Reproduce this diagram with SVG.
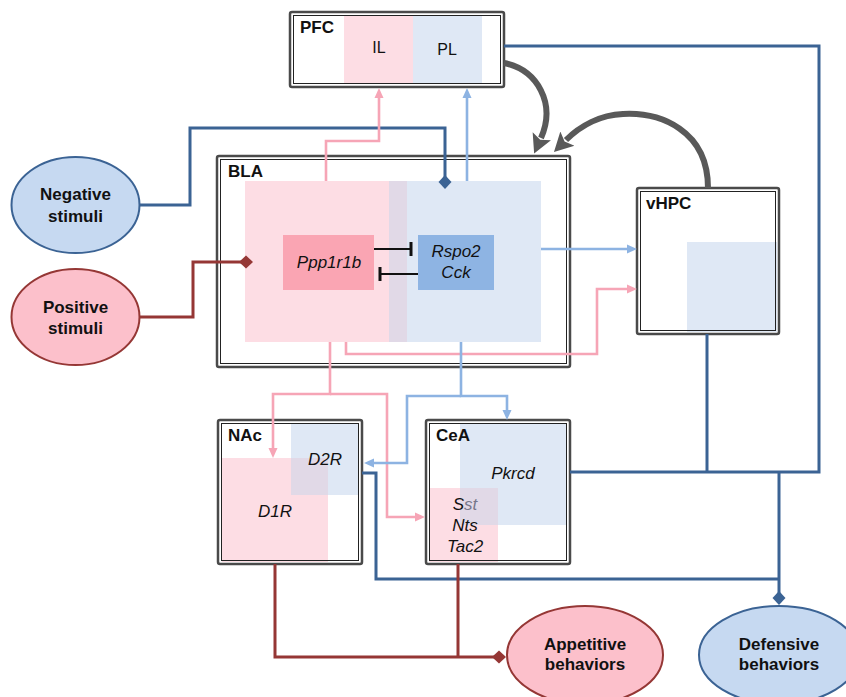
<svg xmlns="http://www.w3.org/2000/svg" width="846" height="697" viewBox="0 0 846 697">
<style>
text{font-family:"Liberation Sans",Arial,sans-serif;fill:#111}
.lbl{font-weight:bold;font-size:17px}
.reg{font-size:16px;text-anchor:middle}
.gene{font-style:italic;font-size:17px;text-anchor:middle}
.ell{font-weight:bold;font-size:17px;text-anchor:middle}
.outer{fill:#fff;stroke:#4a4a4a;stroke-width:2.5}
.inner{fill:none;stroke:#222;stroke-width:1}
.pink{fill:#fddde4}
.blue{fill:#dfe8f5}
.mix{fill:#e1d9e7}
.dk{fill:none;stroke:#3b6394;stroke-width:3}
.rd{fill:none;stroke:#953735;stroke-width:3}
.lp{fill:none;stroke:#f6a5b6;stroke-width:2.6}
.lb{fill:none;stroke:#8db3e2;stroke-width:2.6}
.gy{fill:none;stroke:#595959;stroke-width:6}
.inh{fill:none;stroke:#111;stroke-width:2}
</style>
<defs>
<marker id="arrP" viewBox="0 0 10 10" refX="3" refY="5" markerWidth="10" markerHeight="10" markerUnits="userSpaceOnUse" orient="auto"><path d="M0,0.5 L10,5 L0,9.5 z" fill="#f6a5b6"/></marker>
<marker id="arrB" viewBox="0 0 10 10" refX="3" refY="5" markerWidth="10" markerHeight="10" markerUnits="userSpaceOnUse" orient="auto"><path d="M0,0.5 L10,5 L0,9.5 z" fill="#8db3e2"/></marker>
<marker id="diaB" viewBox="0 0 14 14" refX="7" refY="7" markerWidth="14" markerHeight="14" markerUnits="userSpaceOnUse" orient="auto"><path d="M0,7 L7,0.5 L14,7 L7,13.5 z" fill="#3b6394"/></marker>
<marker id="diaR" viewBox="0 0 14 14" refX="7" refY="7" markerWidth="14" markerHeight="14" markerUnits="userSpaceOnUse" orient="auto"><path d="M0,7 L7,0.5 L14,7 L7,13.5 z" fill="#953735"/></marker>
<marker id="arrG" viewBox="0 -11 20 22" refX="2" refY="0" markerWidth="20" markerHeight="22" markerUnits="userSpaceOnUse" orient="auto"><path d="M0,-10 L19,0 L0,10 L4,0 z" fill="#595959"/></marker>
</defs>

<g id="PFC">
<rect class="outer" x="290" y="12" width="214" height="75" rx="2"/>
<rect class="pink" x="344" y="15" width="69" height="69"/>
<rect class="blue" x="413" y="15" width="69" height="69"/>
<rect class="inner" x="293.5" y="15.5" width="207" height="68"/>
<text class="lbl" x="300" y="33">PFC</text>
<text class="reg" x="379" y="53">IL</text>
<text class="reg" x="447" y="55">PL</text>
</g>

<g id="BLA">
<rect class="outer" x="217" y="156" width="353" height="211" rx="2"/>
<rect class="inner" x="220.5" y="159.5" width="346" height="204"/>
<rect class="pink" x="245" y="181" width="162" height="161"/>
<rect class="blue" x="389" y="181" width="152" height="161"/>
<rect class="mix" x="389" y="181" width="18" height="161"/>
<text class="lbl" x="228" y="177">BLA</text>
</g>

<g id="Ppp1r1b">
<rect x="283" y="235" width="91" height="55" fill="#faa5b3"/>
<text class="gene" x="329" y="268">Ppp1r1b</text>
</g>

<g id="Rspo2Cck">
<rect x="418" y="235" width="76" height="55" fill="#8eb4e3"/>
<text class="gene" x="456" y="257">Rspo2</text>
<text class="gene" x="456" y="278">Cck</text>
</g>

<g id="vHPC">
<rect class="outer" x="637" y="188" width="142" height="146" rx="2"/>
<rect class="blue" x="687" y="242" width="90" height="90"/>
<rect class="inner" x="640.5" y="191.5" width="135" height="139"/>
<text class="lbl" x="646" y="209">vHPC</text>
</g>

<g id="NAc">
<rect class="outer" x="218" y="420" width="144" height="144" rx="2"/>
<rect class="blue" x="291" y="423" width="67" height="72"/>
<rect class="pink" x="222" y="458" width="106" height="104"/>
<rect class="mix" x="291" y="458" width="37" height="37"/>
<rect class="inner" x="221.5" y="423.5" width="137" height="137"/>
<text class="lbl" x="228" y="441">NAc</text>
<text class="gene" x="325" y="465">D2R</text>
<text class="gene" x="275" y="517">D1R</text>
</g>

<g id="CeA">
<rect class="outer" x="426" y="420" width="144" height="144" rx="2"/>
<rect class="blue" x="460" y="423" width="107" height="102"/>
<rect class="pink" x="429" y="488" width="69" height="74"/>
<rect class="mix" x="460" y="488" width="38" height="37"/>
<rect class="inner" x="429.5" y="423.5" width="137" height="137"/>
<text class="lbl" x="436" y="441">CeA</text>
<text class="gene" x="513" y="479">Pkrcd</text>
<text class="gene" x="465" y="510">S<tspan fill="#77778a">st</tspan></text>
<text class="gene" x="465" y="531">Nts</text>
<text class="gene" x="465" y="552">Tac2</text>
</g>

<g id="NegativeStimuli">
<ellipse cx="75.5" cy="205" rx="64" ry="48" fill="#c6d9f1" stroke="#3b6394" stroke-width="2"/>
<text class="ell" x="75.5" y="200">Negative</text>
<text class="ell" x="75.5" y="222">stimuli</text>
</g>

<g id="PositiveStimuli">
<ellipse cx="75.5" cy="317" rx="64" ry="48" fill="#fcc0cb" stroke="#953735" stroke-width="2"/>
<text class="ell" x="75.5" y="313">Positive</text>
<text class="ell" x="75.5" y="334">stimuli</text>
</g>

<g id="AppetitiveBehaviors">
<ellipse cx="585" cy="655" rx="78" ry="49" fill="#fcc0cb" stroke="#953735" stroke-width="2"/>
<text class="ell" x="585" y="650">Appetitive</text>
<text class="ell" x="585" y="670">behaviors</text>
</g>

<g id="DefensiveBehaviors">
<ellipse cx="779" cy="655" rx="80" ry="49" fill="#c6d9f1" stroke="#3b6394" stroke-width="2"/>
<text class="ell" x="779" y="650">Defensive</text>
<text class="ell" x="779" y="670">behaviors</text>
</g>

<g id="connectors">
<path class="inh" d="M374,249 H411"/>
<path d="M411,242 V256" stroke="#111" stroke-width="3"/>
<path class="inh" d="M418,274 H380"/>
<path d="M380,267 V281" stroke="#111" stroke-width="3"/>

<path class="gy" d="M504,63 C538,70 556,104 541,138" marker-end="url(#arrG)"/>
<path class="gy" d="M708,188 C708,130 660,112 623,114 C600,115 580,126 566,140" marker-end="url(#arrG)"/>

<path class="dk" d="M140,205 H190 V128 H445 V182" marker-end="url(#diaB)"/>
<path class="dk" d="M504,46 H819 V472 H570"/>
<path class="dk" d="M707,334 V472"/>
<path class="dk" d="M362,473 H376 V579 H779"/>
<path class="dk" d="M779,472 V598" marker-end="url(#diaB)"/>

<path class="rd" d="M140,317 H193 V262 H246" marker-end="url(#diaR)"/>
<path class="rd" d="M275,564 V657 H499" marker-end="url(#diaR)"/>
<path class="rd" d="M458,564 V657"/>

<path class="lp" d="M326,181 V141 H379 V95" marker-end="url(#arrP)"/>
<path class="lb" d="M467,181 V95" marker-end="url(#arrB)"/>
<path class="lb" d="M541,249 H630" marker-end="url(#arrB)"/>
<path class="lp" d="M346,342 V354 H597 V289 H630" marker-end="url(#arrP)"/>
<path class="lp" d="M330,342 V394 H273 V451" marker-end="url(#arrP)"/>
<path class="lp" d="M330,394 H387 V517 H418" marker-end="url(#arrP)"/>
<path class="lb" d="M461,342 V396 H507 V413" marker-end="url(#arrB)"/>
<path class="lb" d="M461,396 H407 V463 H371" marker-end="url(#arrB)"/>
</g>
</svg>
